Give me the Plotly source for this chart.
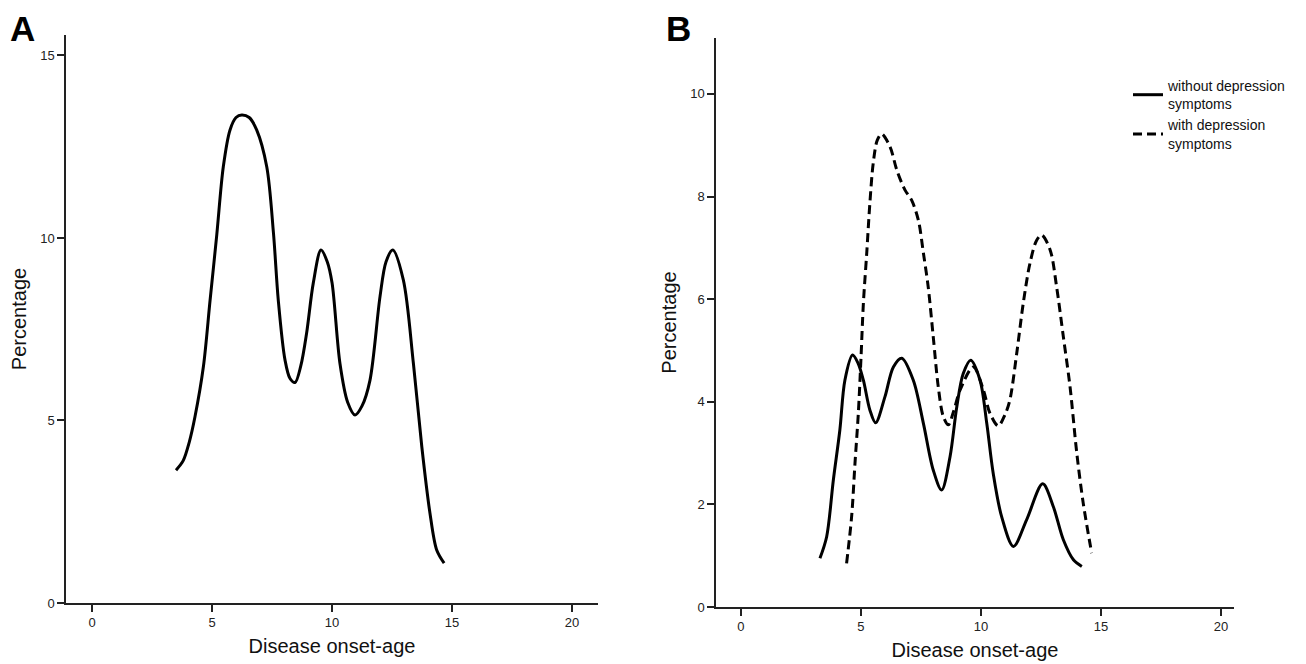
import plotly.graph_objects as go

# Panel A: distribution of disease onset-age (all patients)
a_age = [3.5, 3.8, 4.05, 4.29, 4.64, 4.92, 5.2, 5.47, 5.75, 6.0, 6.24, 6.55, 6.86, 7.28, 7.56, 7.76,
         8.04, 8.25, 8.46, 8.7, 8.94, 9.22, 9.54, 9.8, 10.0, 10.33, 10.65, 10.96, 11.25, 11.58,
         12.0, 12.25, 12.53, 12.97, 13.39, 13.74, 14.08, 14.36, 14.67]
a_pct = [3.64, 3.9, 4.4, 5.1, 6.47, 8.3, 10.1, 11.95, 12.96, 13.3, 13.37, 13.3, 12.96, 11.95, 10.13, 8.3,
         6.66, 6.15, 6.04, 6.5, 7.39, 8.77, 9.67, 9.35, 8.77, 6.56, 5.5, 5.15, 5.4, 6.1,
         8.4, 9.35, 9.67, 8.85, 6.56, 4.28, 2.46, 1.45, 1.09]

# Panel B: without depression symptoms (solid)
b_wo_age = [3.29, 3.57, 3.85, 4.12, 4.33, 4.65, 4.88, 5.1, 5.37, 5.61, 6.0, 6.35, 6.7, 7.18, 7.6,
            8.01, 8.36, 8.71, 8.99, 9.26, 9.57, 9.96, 10.24, 10.51, 10.86, 11.35, 11.9, 12.57,
            13.01, 13.43, 13.85, 14.2]
b_wo_pct = [0.95, 1.37, 2.48, 3.45, 4.42, 4.91, 4.75, 4.42, 3.84, 3.59, 4.1, 4.68, 4.85, 4.42, 3.58,
            2.67, 2.28, 2.93, 3.9, 4.55, 4.81, 4.42, 3.58, 2.6, 1.76, 1.18, 1.7, 2.4,
            1.96, 1.31, 0.92, 0.79]

# Panel B: with depression symptoms (dashed)
b_w_age = [4.4, 4.61, 4.75, 4.89, 5.0, 5.1, 5.24, 5.37, 5.51, 5.68, 5.86, 6.21, 6.49, 6.83, 7.11,
           7.39, 7.6, 7.8, 8.01, 8.22, 8.43, 8.64, 8.85, 9.13, 9.68, 10.1, 10.37, 10.72, 11.0,
           11.2, 11.49, 11.76, 12.04, 12.32, 12.53, 12.88, 13.15, 13.43, 13.71, 13.99, 14.26, 14.61]
b_w_pct = [0.85, 1.76, 2.8, 3.78, 4.85, 5.92, 6.9, 7.87, 8.65, 9.1, 9.22, 8.97, 8.52, 8.13, 7.93,
           7.54, 6.9, 6.24, 5.27, 4.29, 3.71, 3.55, 3.8, 4.23, 4.68, 4.23, 3.78, 3.53, 3.75,
           4.03, 4.95, 5.92, 6.7, 7.15, 7.25, 6.96, 6.24, 5.27, 4.29, 3.0, 2.02, 1.05]

x_ticks = [0, 5, 10, 15, 20]
a_y_ticks = [0, 5, 10, 15]
b_y_ticks = [0, 2, 4, 6, 8, 10]

# the page body adds an 8px margin, so the figure is drawn 8px in from the window corner
OFF = 8
W, H = 1306 - OFF, 664 - OFF
FONT = "Liberation Sans, Arial, sans-serif"


def px(v):
    return (v - OFF) / W


def py(v):
    return 1 - (v - OFF) / H


fig = go.Figure()
fig.add_trace(go.Scatter(x=a_age, y=a_pct, mode="lines", xaxis="x", yaxis="y",
                         line=dict(color="black", width=3, shape="spline", smoothing=0.9),
                         showlegend=False))
fig.add_trace(go.Scatter(x=b_wo_age, y=b_wo_pct, mode="lines", xaxis="x2", yaxis="y2",
                         name="without depression<br>symptoms",
                         line=dict(color="black", width=3, shape="spline", smoothing=0.9)))
fig.add_trace(go.Scatter(x=b_w_age, y=b_w_pct, mode="lines", xaxis="x2", yaxis="y2",
                         name="with depression<br>symptoms",
                         line=dict(color="black", width=3, dash="9px,5px", shape="spline", smoothing=0.9)))

axis_common = dict(showline=True, linecolor="#222", linewidth=1.5, ticks="outside", ticklen=7,
                   tickwidth=1.5, tickcolor="#222", showgrid=False, zeroline=False, automargin=False,
                   tickfont=dict(family=FONT, size=13, color="#222"))
title_font = dict(family=FONT, size=20, color="#111")

fig.update_layout(
    width=W, height=H,
    margin=dict(l=0, r=0, t=0, b=0, autoexpand=False),
    paper_bgcolor="white", plot_bgcolor="white",
    xaxis=dict(domain=[px(66), px(598)], range=[-1.083, 21.08], tickvals=x_ticks,
               anchor="y", title=dict(text="Disease onset-age", font=title_font, standoff=10),
               **axis_common),
    yaxis=dict(domain=[py(603), py(35)], range=[0, 15.56], tickvals=a_y_ticks,
               anchor="x", title=dict(text="Percentage", font=title_font, standoff=8),
               **axis_common),
    xaxis2=dict(domain=[px(716), px(1234)], range=[-1.04, 20.54], tickvals=x_ticks,
                anchor="y2", title=dict(text="Disease onset-age", font=title_font, standoff=10),
                **axis_common),
    yaxis2=dict(domain=[py(607), py(38)], range=[0, 11.09], tickvals=b_y_ticks,
                anchor="x2", title=dict(text="Percentage", font=title_font, standoff=8),
                **axis_common),
    legend=dict(x=px(1128), y=py(70), xanchor="left", yanchor="top",
                font=dict(family=FONT, size=14, color="#111"), bgcolor="rgba(0,0,0,0)",
                itemwidth=30, tracegroupgap=0),
    annotations=[
        dict(text="<b>A</b>", x=px(9), y=py(8), xref="paper", yref="paper",
             xanchor="left", yanchor="top", showarrow=False, borderpad=0,
             font=dict(family=FONT, size=35, color="black")),
        dict(text="<b>B</b>", x=px(665), y=py(8), xref="paper", yref="paper",
             xanchor="left", yanchor="top", showarrow=False, borderpad=0,
             font=dict(family=FONT, size=35, color="black")),
    ],
)

fig.write_html("out.html")
